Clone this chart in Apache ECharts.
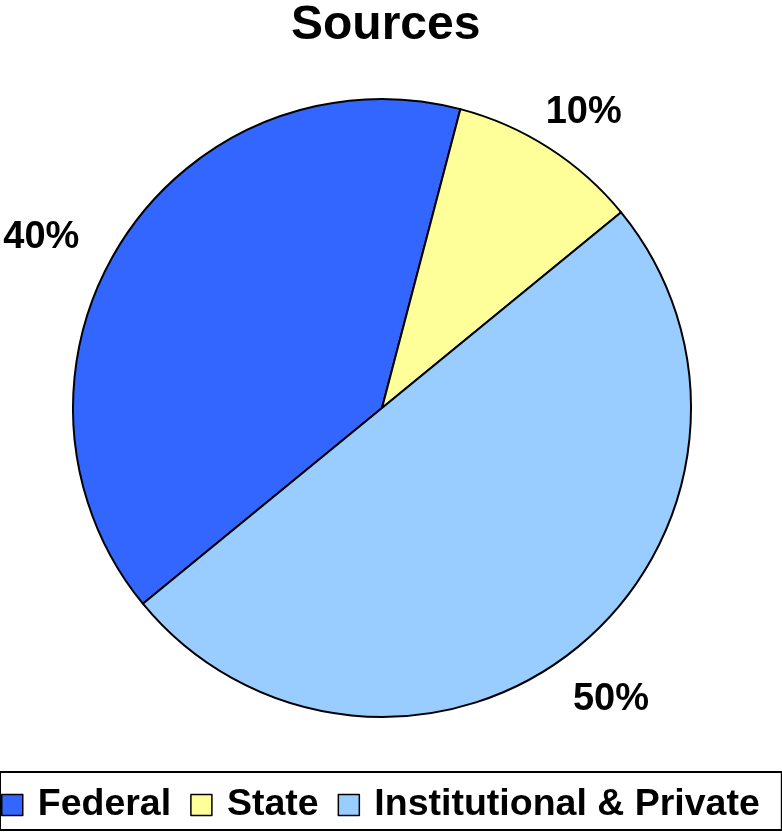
<!DOCTYPE html>
<html>
<head>
<meta charset="utf-8">
<title>Sources</title>
<script src="https://cdn.jsdelivr.net/npm/echarts@6/dist/echarts.min.js"></script>
<style>
  html, body { margin: 0; padding: 0; background: #fff; }
  #chart { width: 782px; height: 833px; }
</style>
</head>
<body>
<div id="chart"></div>
<script>
// Funding sources and their shares (percent)
var categories = ['Federal', 'State', 'Institutional & Private'];
var shares = [40, 10, 50];
var sliceColors = ['#3366FF', '#FFFF99', '#99CCFF'];

var FONT = '"Liberation Sans", Arial, Helvetica, sans-serif';
var CX = 382, CY = 408, R = 309;
var START = 219.3; // degrees, counter-clockwise from 3 o'clock

// label placement: radial distance and angular nudge (degrees, clockwise) per slice
var labelDist = [381, 358, 371];
var labelNudge = [-6.1, 1.6, 1.2];

var total = shares.reduce(function (a, b) { return a + b; }, 0);
var midAngles = [];
(function () {
  var acc = 0;
  for (var i = 0; i < shares.length; i++) {
    var frac = (acc + shares[i] / 2) / total;
    // clockwise angle from 12 o'clock
    midAngles.push((90 - START) + frac * 360);
    acc += shares[i];
  }
})();

var chart = echarts.init(document.getElementById('chart'), null, { renderer: 'canvas' });

chart.setOption({
  animation: false,
  backgroundColor: '#ffffff',
  title: {
    text: 'Sources',
    left: 286,
    top: -3,
    textStyle: { fontFamily: FONT, fontSize: 48, fontWeight: 'bold', color: '#000' }
  },
  legend: {
    data: categories,
    left: 0,
    top: 772,
    width: 776,
    orient: 'horizontal',
    icon: 'rect',
    itemWidth: 21,
    itemHeight: 21,
    itemGap: 19,
    borderColor: '#000',
    borderWidth: 2,
    padding: [14, 22, 6, 1],
    selectedMode: false,
    itemStyle: { borderColor: '#000', borderWidth: 1.5 },
    textStyle: {
      fontFamily: FONT, fontSize: 37.5, fontWeight: 'bold', color: '#000',
      padding: [0, 0, 0, 10]
    }
  },
  series: [{
    type: 'pie',
    center: [CX, CY],
    radius: [0, R],
    startAngle: START,
    clockwise: true,
    avoidLabelOverlap: false,
    data: categories.map(function (name, i) {
      return { name: name, value: shares[i], itemStyle: { color: sliceColors[i] } };
    }),
    itemStyle: { borderColor: '#000', borderWidth: 2 },
    label: {
      show: true,
      position: 'outside',
      formatter: function (p) { return shares[p.dataIndex] + '%'; },
      fontFamily: FONT, fontSize: 38, fontWeight: 'bold', color: '#000'
    },
    labelLine: { show: false },
    labelLayout: function (p) {
      var i = p.dataIndex;
      var a = (midAngles[i] + labelNudge[i]) * Math.PI / 180;
      return {
        x: CX + Math.sin(a) * labelDist[i],
        y: CY - Math.cos(a) * labelDist[i],
        align: 'center',
        verticalAlign: 'middle'
      };
    },
    emphasis: { disabled: true }
  }]
});
</script>
</body>
</html>
